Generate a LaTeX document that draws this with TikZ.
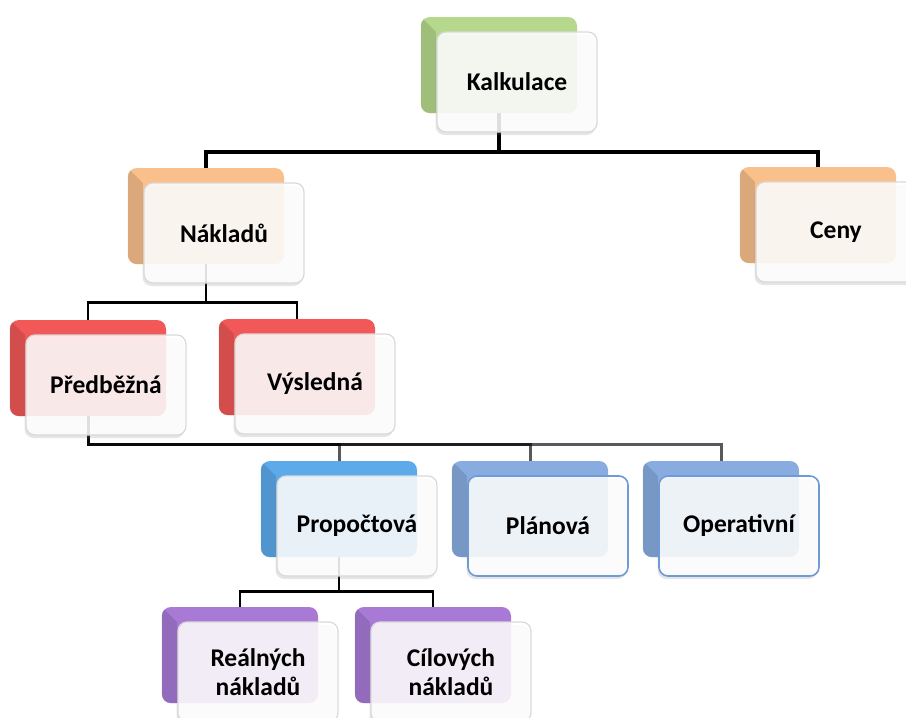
\documentclass[tikz,border=0pt]{standalone}
\usepackage{fontspec}
\setmainfont{Carlito}
\usetikzlibrary{calc,shadows}
\pgfdeclarelayer{wires}
\pgfsetlayers{wires,main}

\definecolor{cGreen}{RGB}{181,216,140}
\definecolor{cOrange}{RGB}{249,192,140}
\definecolor{cRed}{RGB}{242,88,88}
\definecolor{cSky}{RGB}{92,170,234}
\definecolor{cSteel}{RGB}{136,172,224}
\definecolor{cViolet}{RGB}{168,122,214}
\definecolor{cRim}{RGB}{110,154,214}

\tikzset{
  backbox/.style={rectangle, rounded corners=9pt, minimum width=156pt,
    minimum height=96pt, inner sep=0pt},
  frontbox/.style={rectangle, rounded corners=9pt, minimum width=160pt,
    minimum height=100pt, inner sep=0pt, fill=white, fill opacity=0.86,
    text opacity=1, draw=black!15, line width=1.2pt,
    drop shadow={shadow xshift=-1.5pt, shadow yshift=-3pt, opacity=0.2},
    font=\bfseries\fontsize{25.5}{29}\selectfont, align=center},
  bluerim/.style={draw=cRim, line width=1.6pt},
  wire/.style={draw=black, line width=2.6pt},
  wirethick/.style={wire, line width=4pt},
  wirefaint/.style={wire, line width=3pt, draw opacity=0.65},
}

% one entry of the hierarchy: coloured bevelled card behind a pale card
\newcommand\tier[6][]{%
  \node[backbox, fill=#5] (#2B) at (#3,#4) {};
  \begin{scope}
    \clip[rounded corners=9pt] (#2B.north west) rectangle (#2B.south east);
    \fill[#5!78!black, fill opacity=.55] (#2B.north west) -- ++(15,15)
      -- ($(#2B.south west)+(15,0)$) -- (#2B.south west) -- cycle;
  \end{scope}
  \node[frontbox, #1] (#2) at ($(#2B)+(18,17)$) {#6};
}

\begin{document}
\begin{tikzpicture}[x=1pt, y=-1pt]
  \useasboundingbox (0,0) rectangle (906,718);
  \clip (0,0) rectangle (906,718);

  \tier{kal}{499}{65}{cGreen}{Kalkulace}
  \tier{nak}{206}{216}{cOrange}{Nákladů}
  \tier{ceny}{818}{215}{cOrange}{Ceny}
  \tier{pre}{88}{368}{cRed}{Předběžná}
  \tier{vys}{297}{367}{cRed}{Výsledná}
  \tier{pro}{339}{509}{cSky}{Propočtová}
  \tier[bluerim]{pla}{530}{509}{cSteel}{Plánová}
  \tier[bluerim]{ope}{721}{509}{cSteel}{Operativní}
  \tier{rea}{240}{655}{cViolet}{Reálných\\nákladů}
  \tier{cil}{433}{655}{cViolet}{Cílových\\nákladů}

  \begin{pgfonlayer}{wires}
    \fill[white] (0,0) rectangle (906,718);
    \draw[wirethick] (kalB.south) -- ++(0,39) coordinate (kalJ) -| (nakB.north);
    \draw[wirethick] (kalJ) -| (cenyB.north);
    \draw[wire] (nakB.south) -- ++(0,38) coordinate (nakJ) -| (preB.north);
    \draw[wire] (nakJ) -| (vysB.north);
    \draw[wirefaint] (preB.south) -- ++(0,28) -| (proB.north);
    \draw[wirefaint] (preB.south) -- ++(0,28) -| (plaB.north);
    \draw[wirefaint] (preB.south) -- ++(0,28) -| (opeB.north);
    \draw[wire] (proB.south) -- ++(0,34) coordinate (proJ) -| (reaB.north);
    \draw[wire] (proJ) -| (cilB.north);
  \end{pgfonlayer}
\end{tikzpicture}
\end{document}
